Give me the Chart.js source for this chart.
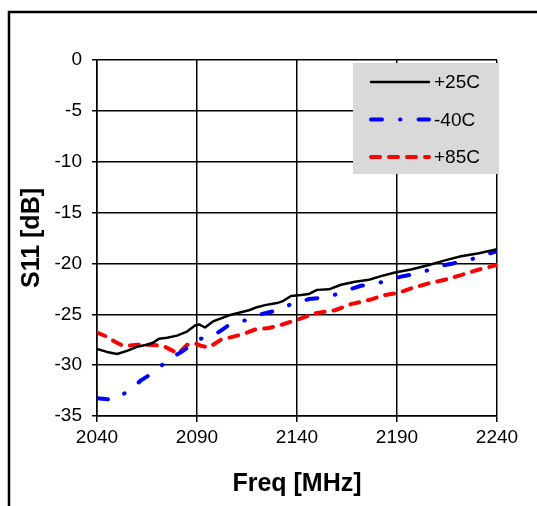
<!DOCTYPE html>
<html>
<head>
<meta charset="utf-8">
<script src="https://cdn.jsdelivr.net/npm/chart.js@4/dist/chart.umd.min.js"></script>
<style>
  html, body { margin: 0; padding: 0; background: #fff; }
  #wrap { width: 537px; height: 506px; position: relative; }
</style>
</head>
<body>
<div id="wrap"><canvas id="c" width="537" height="506"></canvas></div>
<script>
// ---- data ----
const seriesLabels = ['+25C', '-40C', '+85C'];

const freq25 = [2040,2045,2050,2055,2060,2065,2068,2071,2075,2080,2085,2089,2091,2094,2098,2102,2106,2111,2116,2120,2124,2130,2133,2137,2142,2146,2150,2156,2162,2169,2176,2182,2189,2197,2206,2214,2222,2231,2240];
const s11_25 = [-28.4,-28.7,-28.9,-28.6,-28.2,-28.0,-27.8,-27.4,-27.3,-27.1,-26.7,-26.1,-26.0,-26.3,-25.7,-25.4,-25.1,-24.85,-24.6,-24.3,-24.1,-23.9,-23.7,-23.2,-23.1,-23.0,-22.6,-22.55,-22.1,-21.8,-21.6,-21.25,-20.9,-20.6,-20.15,-19.7,-19.3,-19.0,-18.6];

const freq40 = [2040,2045,2049,2052,2056,2062,2066,2070,2076,2083,2087,2090,2094,2099,2102,2106,2110,2114,2118,2122,2126,2131,2135,2138,2142,2146,2151,2156,2160,2164,2168,2172,2176,2181,2185,2188,2192,2197,2201,2206,2210,2214,2218,2222,2227,2231,2235,2240];
const s11_40 = [-33.25,-33.35,-33.4,-33.0,-32.5,-31.5,-31.0,-30.4,-29.45,-28.6,-28.0,-27.5,-27.3,-27.0,-26.6,-26.05,-25.8,-25.6,-25.3,-25.0,-24.8,-24.6,-24.2,-23.9,-23.75,-23.5,-23.4,-23.3,-23.0,-22.7,-22.45,-22.2,-22.1,-21.9,-21.7,-21.5,-21.3,-21.1,-20.9,-20.65,-20.4,-20.15,-20.0,-19.8,-19.6,-19.35,-19.1,-18.8];

const freq85 = [2040,2045,2049,2052,2055,2060,2065,2070,2074,2077,2080.5,2083,2085,2089,2092,2095.5,2098,2102,2106,2111,2115,2119,2126,2132,2139,2142,2149,2154,2159,2163,2167,2176,2184,2189,2192,2197,2206,2214,2222,2231,2240];
const s11_85 = [-26.8,-27.2,-27.7,-28.0,-28.1,-28.0,-28.0,-28.05,-28.2,-28.5,-28.85,-28.4,-28.0,-27.85,-28.1,-28.25,-28.0,-27.5,-27.3,-27.05,-26.8,-26.5,-26.35,-26.05,-25.6,-25.4,-24.9,-24.75,-24.6,-24.3,-24.0,-23.6,-23.1,-22.95,-22.8,-22.45,-21.95,-21.6,-21.15,-20.6,-20.15];

const xTicks = [2040, 2090, 2140, 2190, 2240];
const yTicks = [0, -5, -10, -15, -20, -25, -30, -35];
const xTitle = 'Freq [MHz]';
const yTitle = 'S11 [dB]';

// ---- build ----
const toPts = (xs, ys) => xs.map((x, i) => ({ x: x, y: ys[i] }));

const FONT = 'Liberation Sans, Arial, sans-serif';

const frame = {
  id: 'frame',
  afterDraw(chart) {
    const ctx = chart.ctx;
    ctx.save();
    ctx.strokeStyle = '#000';
    ctx.lineWidth = 2.5;
    ctx.beginPath();
    ctx.moveTo(9, 506);
    ctx.lineTo(9, 12);
    ctx.lineTo(537, 12);
    ctx.stroke();
    ctx.restore();
  }
};

const boxLegend = {
  id: 'boxLegend',
  afterDraw(chart) {
    const ctx = chart.ctx;
    const a = chart.chartArea;
    const bx = a.right - 144, by = a.top + 3, bw = 146, bh = 111;
    ctx.save();
    ctx.fillStyle = '#d9d9d9';
    ctx.fillRect(bx, by, bw, bh);
    chart.data.datasets.forEach((ds, i) => {
      const y = by + 19 + i * 37.5;
      ctx.save();
      ctx.strokeStyle = ds.borderColor;
      ctx.lineWidth = ds.borderWidth;
      ctx.lineCap = ds.borderCapStyle || 'butt';
      ctx.setLineDash(ds.borderDash || []);
      ctx.beginPath();
      ctx.moveTo(bx + 18, y);
      ctx.lineTo(bx + 76, y);
      ctx.stroke();
      ctx.restore();
      ctx.fillStyle = '#000';
      ctx.font = '19px ' + FONT;
      ctx.textBaseline = 'middle';
      ctx.textAlign = 'left';
      ctx.fillText(ds.label, bx + 81, y + 1);
    });
    ctx.restore();
  }
};

new Chart(document.getElementById('c'), {
  type: 'line',
  data: {
    datasets: [
      { label: seriesLabels[0], data: toPts(freq25, s11_25), borderColor: '#000000', borderWidth: 2.5, borderCapStyle: 'round', borderJoinStyle: 'round', pointRadius: 0, tension: 0, fill: false },
      { label: seriesLabels[1], data: toPts(freq40, s11_40), borderColor: '#0000ff', borderWidth: 4, borderDash: [11, 18, 0.5, 18], borderCapStyle: 'round', pointRadius: 0, tension: 0, fill: false },
      { label: seriesLabels[2], data: toPts(freq85, s11_85), borderColor: '#ff0000', borderWidth: 4, borderDash: [9, 9], borderCapStyle: 'round', pointRadius: 0, tension: 0, fill: false }
    ]
  },
  options: {
    responsive: false,
    animation: false,
    devicePixelRatio: 1,
    layout: { padding: { left: 0, right: 40, top: 60, bottom: 0 } },
    plugins: { legend: { display: false }, tooltip: { enabled: false } },
    scales: {
      x: {
        type: 'linear',
        min: xTicks[0], max: xTicks[xTicks.length - 1],
        afterBuildTicks(s) { s.ticks = xTicks.map(v => ({ value: v })); },
        afterFit(s) { s.height = 90; },
        grid: { color: '#000', lineWidth: 1.5, tickLength: 6, tickColor: '#000' },
        border: { color: '#000', width: 1.5 },
        ticks: { color: '#000', font: { family: FONT, size: 19 }, padding: 4, maxRotation: 0, autoSkip: false, callback: v => String(v) },
        title: { display: true, text: xTitle, color: '#000', font: { family: FONT, size: 25, weight: 'bold' }, padding: { top: 0, bottom: 7 } }
      },
      y: {
        type: 'linear',
        min: yTicks[yTicks.length - 1], max: yTicks[0],
        afterBuildTicks(s) { s.ticks = yTicks.slice().reverse().map(v => ({ value: v })); },
        afterFit(s) { s.width = 97; },
        grid: { color: '#000', lineWidth: 1.5, tickLength: 5, tickColor: '#000' },
        border: { color: '#000', width: 1.5 },
        ticks: { color: '#000', font: { family: FONT, size: 19 }, padding: 10, autoSkip: false, callback: v => String(v) },
        title: { display: true, text: yTitle, color: '#000', font: { family: FONT, size: 25, weight: 'bold' }, padding: { top: 17, bottom: 0 } }
      }
    }
  },
  plugins: [frame, boxLegend]
});
</script>
</body>
</html>
